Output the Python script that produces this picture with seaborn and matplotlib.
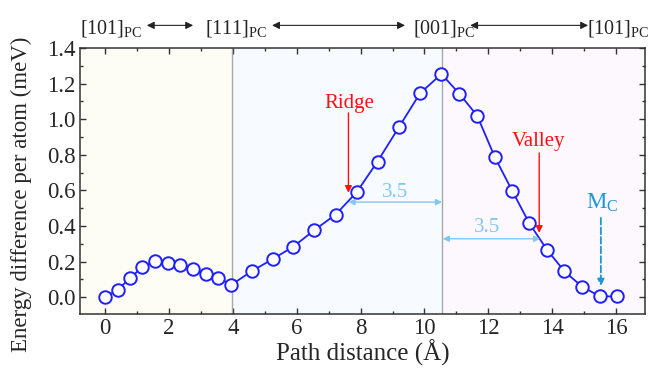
import numpy as np
import pandas as pd
import seaborn as sns
import matplotlib.pyplot as plt
import matplotlib.transforms as mtransforms
from matplotlib.ticker import MultipleLocator

# dados
dist_101_111 = [0.0, 0.40, 0.78, 1.17, 1.57, 1.96, 2.35, 2.77, 3.15, 3.55, 3.96]
dist_111_001 = [4.59, 5.25, 5.90, 6.55, 7.22, 7.88, 8.53, 9.20, 9.86, 10.53]
dist_001_101 = [11.09, 11.65, 12.20, 12.74, 13.28, 13.83, 14.38, 14.93, 15.49, 16.04]
energia_101_111 = [0.0, 0.042, 0.105, 0.169, 0.201, 0.194, 0.182, 0.158, 0.132, 0.107, 0.070]
energia_111_001 = [0.145, 0.214, 0.284, 0.376, 0.464, 0.590, 0.762, 0.955, 1.145, 1.254]
energia_001_101 = [1.143, 1.019, 0.787, 0.599, 0.415, 0.267, 0.145, 0.059, 0.004, 0.004]

direcoes = ['[101]', '[111]', '[001]', '[101]']
pos_direcoes = [-0.78, 4.1, 10.6, 16.06]
limites = [3.97, 10.55]

df = pd.DataFrame({
    'dist': dist_101_111 + dist_111_001 + dist_001_101,
    'energia': energia_101_111 + energia_111_001 + energia_001_101,
})

sns.set_style('ticks')
plt.rcParams['font.family'] = ['Liberation Serif', 'DejaVu Serif']
plt.rcParams['mathtext.fontset'] = 'custom'
plt.rcParams['mathtext.rm'] = 'Liberation Serif'
plt.rcParams['mathtext.it'] = 'Liberation Serif:italic'
plt.rcParams['xtick.direction'] = 'in'
plt.rcParams['ytick.direction'] = 'in'

fig = plt.figure(figsize=(6.57, 3.74), dpi=100)
ax = fig.add_axes([0.1218, 0.1604, 0.8599, 0.7113])

xmin, xmax = -0.78, 16.9
ax.axvspan(xmin, limites[0], color='#fdfdf6', lw=0, zorder=0)
ax.axvspan(limites[0], limites[1], color='#f7fbff', lw=0, zorder=0)
ax.axvspan(limites[1], xmax, color='#fdf8fd', lw=0, zorder=0)
for xv in limites:
    ax.axvline(xv, color='#a8a8a8', lw=1.0, zorder=1)

sns.lineplot(data=df, x='dist', y='energia', ax=ax, color='#1f1fff', lw=1.3,
             marker='o', ms=9, mfc='white', mec='#1f1fff', mew=1.4, zorder=3)

ax.set_xlim(xmin, xmax)
ax.set_ylim(-0.095, 1.4)
ax.xaxis.set_major_locator(MultipleLocator(2))
ax.xaxis.set_minor_locator(MultipleLocator(1))
ax.yaxis.set_major_locator(MultipleLocator(0.2))
ax.yaxis.set_minor_locator(MultipleLocator(0.1))
ax.yaxis.set_major_formatter(plt.FuncFormatter(lambda v, p: f'{v:.1f}'))
ax.tick_params(which='both', top=True, right=True, color='#333333', width=1.0)
ax.tick_params(which='major', length=4, labelsize=16.5, pad=3)
ax.tick_params(which='minor', length=2.2)
for s in ax.spines.values():
    s.set_linewidth(1.1)
    s.set_color('#333333')

ax.set_xlabel('Path distance (Å)', fontsize=18, labelpad=0)
ax.set_ylabel('Energy difference per atom (meV)', fontsize=16.5)
ax.yaxis.set_label_coords(-0.085, 0.45)

# rótulos das direções no topo
trans = mtransforms.blended_transform_factory(ax.transData, ax.transAxes)
for i, (d, xp) in enumerate(zip(direcoes, pos_direcoes)):
    ha = 'left' if i == 0 else 'center'
    ax.text(xp, 1.075, d + r'$_{\mathrm{PC}}$', transform=trans, ha=ha, va='center',
            fontsize=14.5, clip_on=False)
for x0, x1 in [(1.31, 2.76), (5.23, 9.39), (11.43, 15.12)]:
    ax.annotate('', xy=(x1, 1.085), xytext=(x0, 1.085), xycoords=trans, textcoords=trans,
                arrowprops=dict(arrowstyle='<|-|>', color='#222222', lw=0.8,
                                mutation_scale=11, shrinkA=0, shrinkB=0))

# anotações
vermelho = '#ff1010'
ax.annotate('', xy=(7.62, 0.586), xytext=(7.62, 1.035),
            arrowprops=dict(arrowstyle='-|>', color=vermelho, lw=1.0, mutation_scale=10,
                            shrinkA=0, shrinkB=0))
ax.text(7.66, 1.09, 'Ridge', color=vermelho, fontsize=15, ha='center', va='center')
ax.annotate('', xy=(13.59, 0.361), xytext=(13.59, 0.81),
            arrowprops=dict(arrowstyle='-|>', color=vermelho, lw=1.0, mutation_scale=10,
                            shrinkA=0, shrinkB=0))
ax.text(13.57, 0.876, 'Valley', color=vermelho, fontsize=15, ha='center', va='center')

azul_claro = '#80c8f2'
ax.annotate('', xy=(10.55, 0.534), xytext=(7.62, 0.534),
            arrowprops=dict(arrowstyle='<|-|>', color=azul_claro, lw=1.0, mutation_scale=9,
                            shrinkA=0, shrinkB=0))
ax.text(9.08, 0.588, '3.5', color=azul_claro, fontsize=15, ha='center', va='center')
ax.annotate('', xy=(13.62, 0.328), xytext=(10.57, 0.328),
            arrowprops=dict(arrowstyle='<|-|>', color=azul_claro, lw=1.0, mutation_scale=9,
                            shrinkA=0, shrinkB=0))
ax.text(11.95, 0.39, '3.5', color=azul_claro, fontsize=15, ha='center', va='center')

azul_mc = '#1c98d8'
ax.annotate('', xy=(15.52, 0.062), xytext=(15.52, 0.445),
            arrowprops=dict(arrowstyle='-|>', color=azul_mc, lw=1.3, ls='--', mutation_scale=10,
                            shrinkA=0, shrinkB=0))
ax.text(15.55, 0.53, r'M$_{\mathrm{C}}$', color=azul_mc, fontsize=16.5, ha='center', va='center')

plt.savefig('out.png', dpi=100)
